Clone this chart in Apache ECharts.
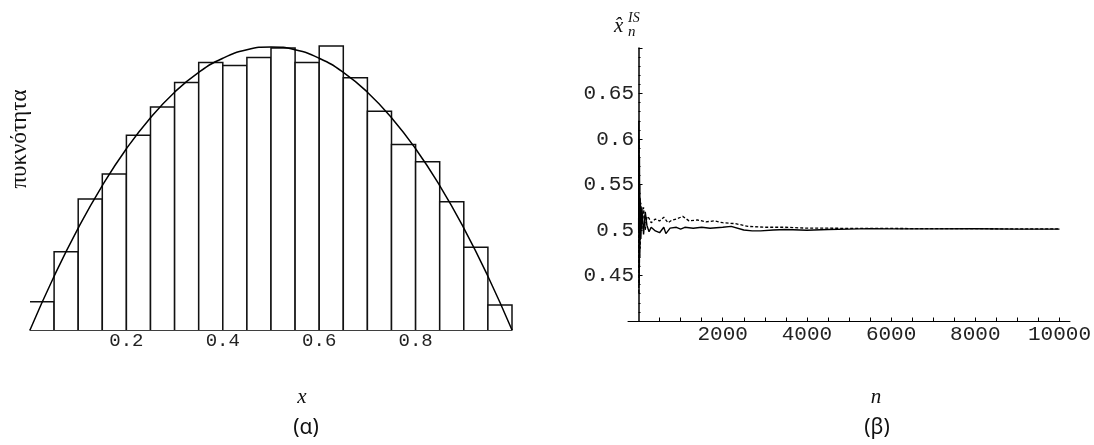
<!DOCTYPE html>
<html>
<head>
<meta charset="utf-8">
<script src="https://cdn.jsdelivr.net/npm/echarts@6/dist/echarts.min.js"></script>
<style>
html,body{margin:0;padding:0;background:#ffffff;}
#chart{width:1094px;height:445px;}
</style>
</head>
<body>
<div id="chart"></div>
<script>
// ---------- Panel (α): histogram of samples with density curve ----------
const binEdges = [0, 0.05, 0.1, 0.15, 0.2, 0.25, 0.3, 0.35, 0.4, 0.45, 0.5,
                  0.55, 0.6, 0.65, 0.7, 0.75, 0.8, 0.85, 0.9, 0.95, 1];
const binDensity = [0.150, 0.415, 0.694, 0.826, 1.032, 1.182, 1.311, 1.417, 1.401, 1.444,
                    1.494, 1.417, 1.505, 1.336, 1.159, 0.983, 0.891, 0.679, 0.439, 0.132];
const curveX = [0, 0.05, 0.1, 0.15, 0.2, 0.25, 0.3, 0.35, 0.4, 0.45, 0.5,
                0.55, 0.6, 0.65, 0.7, 0.75, 0.8, 0.85, 0.9, 0.95, 1];
const curveY = [0, 0.285, 0.54, 0.765, 0.96, 1.125, 1.26, 1.365, 1.44, 1.485, 1.5,
                1.485, 1.44, 1.365, 1.26, 1.125, 0.96, 0.765, 0.54, 0.285, 0];
const xTickLabelsA = [0.2, 0.4, 0.6, 0.8];

// ---------- Panel (β): running IS estimates ----------
const nSolid = [3, 8, 15, 22, 30, 40, 55, 80, 120, 160, 200, 250, 300, 400, 500, 600, 650, 750,
                900, 1000, 1100, 1300, 1500, 1700, 2000, 2200, 2500, 2700, 2900, 3200, 3500,
                4000, 4500, 5000, 5500, 6000, 7000, 8000, 9000, 10000];
const estSolid = [0.50, 0.62, 0.44, 0.58, 0.47, 0.535, 0.49, 0.525, 0.495, 0.52, 0.505, 0.498, 0.503,
                  0.499, 0.497, 0.503, 0.496, 0.502, 0.503, 0.501, 0.503, 0.502, 0.503, 0.502,
                  0.503, 0.504, 0.5, 0.499, 0.499, 0.5, 0.5005, 0.4998, 0.5005, 0.501, 0.5015,
                  0.5012, 0.5012, 0.5013, 0.501, 0.501];
const nDashed = [3, 8, 15, 22, 30, 40, 55, 80, 120, 160, 200, 250, 300, 400, 500, 600, 700, 800,
                 900, 1050, 1200, 1400, 1600, 1800, 2000, 2300, 2600, 3000, 3500, 4000, 4500,
                 5000, 6000, 7000, 8000, 9000, 10000];
const estDashed = [0.50, 0.43, 0.60, 0.46, 0.55, 0.48, 0.53, 0.50, 0.525, 0.50, 0.515, 0.513, 0.508,
                   0.512, 0.51, 0.514, 0.508, 0.511, 0.512, 0.515, 0.51, 0.511, 0.509, 0.51,
                   0.508, 0.507, 0.504, 0.503, 0.503, 0.502, 0.502, 0.5018, 0.5017, 0.5015,
                   0.5015, 0.5012, 0.5012];
const yTickLabelsB = [0.45, 0.5, 0.55, 0.6, 0.65];
const xTickLabelsB = [2000, 4000, 6000, 8000, 10000];
const xTickMarksB = [500, 1000, 1500, 2000, 2500, 3000, 3500, 4000, 4500, 5000,
                     5500, 6000, 6500, 7000, 7500, 8000, 8500, 9000, 9500, 10000];

// ---------- build ----------
const histData = binDensity.map((d, i) => [binEdges[i], binEdges[i + 1], d]);
const curveData = curveX.map((x, i) => [x, curveY[i]]);
const solidData = nSolid.map((n, i) => [n, estSolid[i]]);
const dashedData = nDashed.map((n, i) => [n, estDashed[i]]);

const monoFont = "'Liberation Mono', 'DejaVu Sans Mono', monospace";
const serifFont = "'Liberation Serif', 'DejaVu Serif', serif";

const chart = echarts.init(document.getElementById('chart'), null, {renderer: 'canvas'});

chart.setOption({
  backgroundColor: '#ffffff',
  animation: false,
  grid: [
    {left: 30, width: 482, top: 28, height: 302},
    {left: 628, right: 23.5, top: 48, bottom: 124}
  ],
  xAxis: [
    {
      gridIndex: 0, type: 'value', min: 0, max: 1,
      axisLine: {show: true, lineStyle: {color: '#000', width: 1.5}},
      axisTick: {show: false},
      splitLine: {show: false},
      axisLabel: {
        customValues: xTickLabelsA, margin: 1,
        formatter: v => String(v),
        fontFamily: monoFont, fontSize: 19, color: '#222'
      }
    },
    {
      gridIndex: 1, type: 'value', min: -250, max: 10250,
      axisLine: {show: true, onZero: false, lineStyle: {color: '#000', width: 1}},
      axisTick: {show: true, inside: true, length: 3.5, customValues: xTickMarksB,
                 lineStyle: {color: '#000', width: 1}},
      splitLine: {show: false},
      axisLabel: {
        customValues: xTickLabelsB, margin: 3,
        formatter: v => String(v),
        fontFamily: monoFont, fontSize: 21, color: '#222'
      }
    }
  ],
  yAxis: [
    {gridIndex: 0, type: 'value', min: 0, max: 1.6, show: false},
    {
      gridIndex: 1, type: 'value', min: 0.4, max: 0.7, interval: 0.05,
      axisLine: {show: true, onZero: true, lineStyle: {color: '#000', width: 1.5}},
      axisTick: {show: true, inside: true, length: 4, lineStyle: {color: '#000', width: 1}},
      minorTick: {show: true, splitNumber: 5, length: 2, lineStyle: {color: '#000', width: 1}},
      splitLine: {show: false},
      minorSplitLine: {show: false},
      axisLabel: {
        customValues: yTickLabelsB, margin: -6,
        formatter: v => String(v),
        fontFamily: monoFont, fontSize: 21, color: '#222'
      }
    }
  ],
  series: [
    {
      type: 'custom', xAxisIndex: 0, yAxisIndex: 0,
      data: histData,
      encode: {x: [0, 1], y: 2},
      renderItem: function (params, api) {
        const x0 = api.value(0), x1 = api.value(1), h = api.value(2);
        const pb = api.coord([x0, 0]);
        const pt = api.coord([x1, h]);
        const pts = [];
        if (params.dataIndex > 0) pts.push([pb[0], pb[1]]);
        pts.push([pb[0], pt[1]], [pt[0], pt[1]], [pt[0], pb[1]]);
        return {
          type: 'group',
          children: [
            {type: 'rect', shape: {x: pb[0], y: pt[1], width: pt[0] - pb[0], height: pb[1] - pt[1]},
             style: {fill: '#ffffff'}},
            {type: 'polyline', shape: {points: pts},
             style: {stroke: '#111', lineWidth: 1.5, fill: null}}
          ]
        };
      },
      z: 2
    },
    {
      type: 'line', xAxisIndex: 0, yAxisIndex: 0,
      data: curveData, smooth: true, showSymbol: false,
      lineStyle: {color: '#000', width: 1.5},
      z: 5
    },
    {
      type: 'line', xAxisIndex: 1, yAxisIndex: 1,
      data: solidData, showSymbol: false,
      lineStyle: {color: '#000', width: 1.4},
      z: 5
    },
    {
      type: 'line', xAxisIndex: 1, yAxisIndex: 1,
      data: dashedData, showSymbol: false,
      lineStyle: {color: '#000', width: 1.3, type: [3, 2]},
      z: 5
    }
  ],
  graphic: [
    {type: 'text', x: 20, y: 139, rotation: Math.PI / 2,
     style: {text: 'πυκνότητα', fontFamily: serifFont, fontSize: 23, fill: '#111',
             align: 'center', verticalAlign: 'middle'}},
    {type: 'text', x: 302, y: 397,
     style: {text: 'x', fontFamily: serifFont, fontStyle: 'italic', fontSize: 21, fill: '#111',
             align: 'center', verticalAlign: 'middle'}},
    {type: 'text', x: 306, y: 428,
     style: {text: '(α)', fontFamily: "'Noto Sans', 'DejaVu Sans', sans-serif", fontSize: 21, fill: '#111',
             align: 'center', verticalAlign: 'middle'}},
    {type: 'text', x: 876, y: 397,
     style: {text: 'n', fontFamily: serifFont, fontStyle: 'italic', fontSize: 21, fill: '#111',
             align: 'center', verticalAlign: 'middle'}},
    {type: 'text', x: 877, y: 428,
     style: {text: '(β)', fontFamily: "'Noto Sans', 'DejaVu Sans', sans-serif", fontSize: 21, fill: '#111',
             align: 'center', verticalAlign: 'middle'}},
    {type: 'text', x: 614, y: 26,
     style: {text: 'x\u0302', fontFamily: serifFont, fontStyle: 'italic', fontSize: 21, fill: '#111',
             align: 'left', verticalAlign: 'middle'}},
    {type: 'text', x: 628, y: 18,
     style: {text: 'IS', fontFamily: serifFont, fontStyle: 'italic', fontSize: 14, fill: '#111',
             align: 'left', verticalAlign: 'middle'}},
    {type: 'text', x: 628, y: 32,
     style: {text: 'n', fontFamily: serifFont, fontStyle: 'italic', fontSize: 15, fill: '#111',
             align: 'left', verticalAlign: 'middle'}}
  ]
});
</script>
</body>
</html>
